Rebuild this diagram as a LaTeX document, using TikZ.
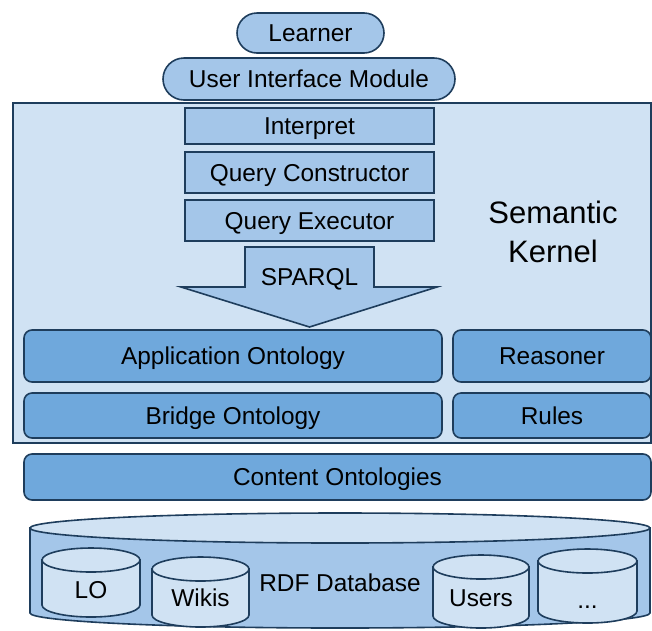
\documentclass[tikz,border=0pt]{standalone}
\usepackage{fontspec}
\setmainfont{Liberation Sans}
\usetikzlibrary{positioning}
\definecolor{kernbg}{HTML}{D0E2F3}
\definecolor{midblue}{HTML}{A4C6E9}
\definecolor{darkfill}{HTML}{6FA8DC}
\definecolor{navy}{HTML}{1E3D5C}

\begin{document}
\begin{tikzpicture}[x=1pt, y=-1pt,
  pill/.style={draw=navy, line width=1.6pt, fill=midblue, rectangle, inner sep=0pt,
               text height=17.5pt, text depth=0pt, font=\fontsize{24.4}{29}\selectfont},
  qb/.style={draw=navy, line width=1.6pt, fill=midblue, rectangle, inner sep=0pt,
             text height=17.5pt, text depth=0pt,
             minimum width=249pt, font=\fontsize{24.4}{29}\selectfont},
  ob/.style={draw=navy, line width=1.6pt, fill=darkfill, rectangle, rounded corners=8pt,
             text height=17.5pt, text depth=0pt,
             inner sep=0pt, font=\fontsize{24.4}{29}\selectfont},
  cyl/.style={draw=navy, line width=1.6pt, fill=kernbg},
  lbl/.style={inner sep=0pt, text height=17.5pt, text depth=0pt, font=\fontsize{24.4}{29}\selectfont}]
\useasboundingbox (0,0) rectangle (652,630);
% kernel frame
\node[draw=navy, line width=1.3pt, fill=kernbg, rectangle, inner sep=0pt,
      minimum width=638pt, minimum height=340pt] (kernel) at (332,273) {};
\node[inner sep=0pt, font=\fontsize{31}{39}\selectfont, align=center] (sk) at (553,232) {Semantic\\Kernel};
% top
\node[pill, rounded corners=20pt, minimum width=147pt, minimum height=40pt] (learner) at (310.5,33) {Learner};
\node[pill, rounded corners=21pt, minimum width=292pt, minimum height=42pt] (ui) at (309,79) {User Interface Module};
\node[qb, minimum height=36pt] (interp) at (309.5,126) {Interpret};
\node[qb, minimum height=41pt] (qcons) at (309.5,172.5) {Query Constructor};
\node[qb, minimum height=41pt] (qexec) at (309.5,220.5) {Query Executor};
% SPARQL arrow
\filldraw[draw=navy, line width=1.6pt, fill=midblue] (245,247) -- (374,247) -- (374,287)
  -- (437,287) -- (309.5,327) -- (181,287) -- (245,287) -- cycle;
\node[lbl] (sparql) at (309.5,277) {SPARQL};
% ontologies
\node[ob, minimum width=418pt, minimum height=52pt] (appont) at (233,356) {Application Ontology};
\node[ob, minimum width=198pt, minimum height=52pt] (reas) at (552,356) {Reasoner};
\node[ob, minimum width=418pt, minimum height=45pt] (bridge) at (233,415.5) {Bridge Ontology};
\node[ob, minimum width=198pt, minimum height=45pt] (rules) at (552,415.5) {Rules};
\node[ob, minimum width=627pt, minimum height=46pt] (content) at (337.5,477) {Content Ontologies};
% RDF database
\filldraw[cyl, fill=midblue] (30,528) -- (30,613) arc[start angle=180, end angle=0, x radius=310, y radius=15] -- (650,528) -- cycle;
\filldraw[cyl] (340,528) ellipse[x radius=310, y radius=15];
\filldraw[cyl] (42,560) -- (42,605) arc[start angle=180, end angle=0, x radius=49, y radius=12] -- (140,560) -- cycle;
\filldraw[cyl] (91,560) ellipse[x radius=49, y radius=12];
\filldraw[cyl] (152,569) -- (152,615) arc[start angle=180, end angle=0, x radius=48.5, y radius=12] -- (249,569) -- cycle;
\filldraw[cyl] (200.5,569) ellipse[x radius=48.5, y radius=12];
\filldraw[cyl] (433,567) -- (433,616) arc[start angle=180, end angle=0, x radius=48, y radius=12] -- (529,567) -- cycle;
\filldraw[cyl] (481,567) ellipse[x radius=48, y radius=12];
\filldraw[cyl] (538,561) -- (538,611) arc[start angle=180, end angle=0, x radius=49.5, y radius=12] -- (637,561) -- cycle;
\filldraw[cyl] (587.5,561) ellipse[x radius=49.5, y radius=12];
\node[lbl] (lo) at (91,590) {LO};
\node[lbl] (wikis) at (200.5,598) {Wikis};
\node[lbl] (rdf) at (340,583) {RDF Database};
\node[lbl] (users) at (481,598) {Users};
\node[lbl] (more) at (587.5,600) {...};
\end{tikzpicture}
\end{document}
